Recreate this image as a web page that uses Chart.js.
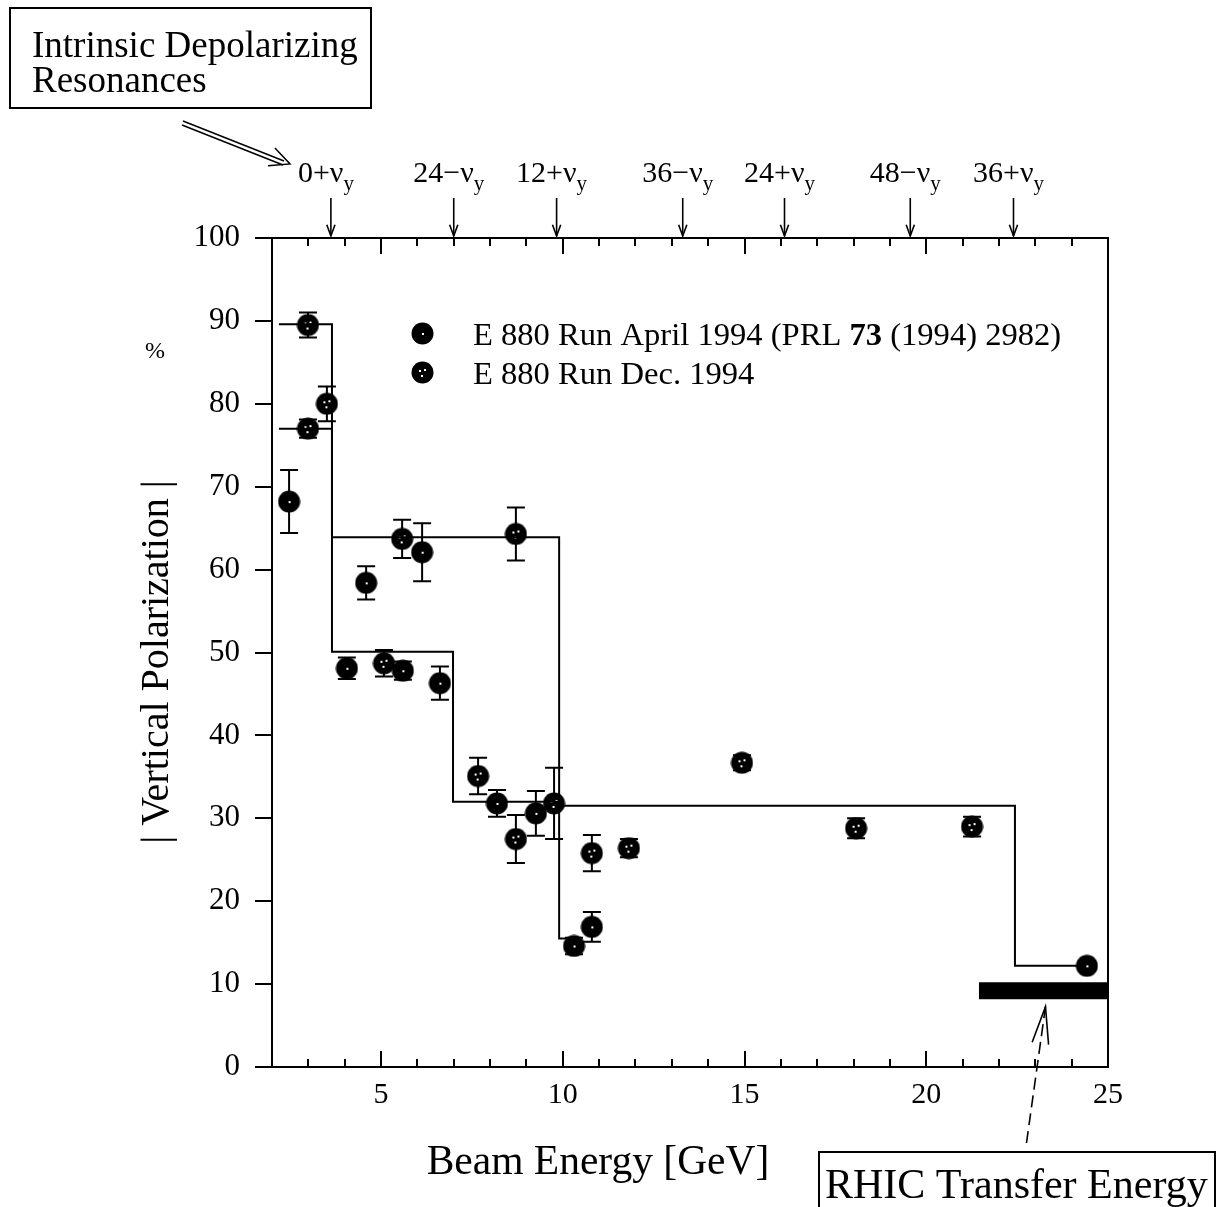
<!DOCTYPE html>
<html>
<head>
<meta charset="utf-8">
<script src="https://cdn.jsdelivr.net/npm/chart.js@4.4.1/dist/chart.umd.min.js"></script>
<style>
  html, body { margin: 0; padding: 0; background: #fff; }
  canvas { display: block; }
</style>
</head>
<body>
<canvas id="c" width="1226" height="1207"></canvas>
<script>
// E880 run, April 1994: beam energy [GeV], |vertical polarization| [%], error [%]
const aprilEnergy = [2.47, 4.06, 4.59, 5.60, 6.13, 6.62, 8.19, 9.26, 10.31, 10.80, 24.42];
const aprilPol    = [68.2, 48.1, 58.4, 47.8, 62.1, 46.3, 31.8, 30.6, 14.6, 16.9, 12.2];
const aprilErr    = [3.8, 1.3, 2.0, 1.1, 3.5, 2.0, 1.6, 2.7, 1.0, 1.8, 0.6];

// E880 run, December 1994
const decEnergy = [2.99, 2.99, 3.51, 5.08, 5.58, 7.67, 8.71, 8.71, 9.76, 10.80, 11.82, 14.93, 18.07, 21.26];
const decPol    = [89.5, 77.0, 80.0, 48.7, 63.7, 35.1, 64.3, 27.5, 31.8, 25.8, 26.4, 36.7, 28.8, 29.0];
const decErr    = [1.5, 1.1, 2.1, 1.6, 2.3, 2.2, 3.2, 2.9, 4.3, 2.2, 1.1, 0.9, 1.2, 1.2];

// Expected polarization steps after crossing each resonance
const upperStepEnergy = [2.19, 3.65, 3.65, 9.90, 9.90, 10.20];
const upperStepPol    = [89.6, 89.6, 63.9, 63.9, 15.5, 15.5];
const lowerStepEnergy = [2.19, 3.65, 3.65, 6.98, 6.98, 9.90, 9.90, 22.44, 22.44, 24.20];
const lowerStepPol    = [77.0, 77.0, 50.1, 50.1, 32.0, 32.0, 31.5, 31.5, 12.2, 12.2];

// Intrinsic depolarizing resonances (energy, label)
const resonanceEnergy = [3.62, 7.00, 9.83, 13.30, 16.10, 19.56, 22.40];
const resonanceLabel  = ['0+ν', '24\u2212ν', '12+ν', '36\u2212ν', '24+ν', '48\u2212ν', '36+ν'];

// RHIC transfer energy band
const rhicEnergy = [21.45, 25.0];
const rhicPol = 9.2;

// Axis ticks
const xTickValues = [5, 10, 15, 20, 25];
const yTickStep = 10;

const SERIF = '"Liberation Serif", "DejaVu Serif", serif';

function pts(xs, ys) { return xs.map((x, i) => ({ x: x, y: ys[i] })); }

// Filled markers: April = black disc with a single highlight, December = speckled disc
function makeMarker(speckles) {
  const c = document.createElement('canvas');
  c.width = 23; c.height = 23;
  const g = c.getContext('2d');
  g.fillStyle = '#000';
  g.beginPath(); g.arc(11.5, 11.5, 11, 0, Math.PI * 2); g.fill();
  g.fillStyle = '#fff';
  speckles.forEach(p => g.fillRect(p[0], p[1], 2, 2));
  return c;
}
const markerApril = makeMarker([[11, 11]]);
const markerDec = makeMarker([[8, 9], [13, 8], [10, 14]]);

const errorBars = {
  id: 'errorBars',
  beforeDatasetsDraw(chart) {
    const { ctx, scales: { x, y } } = chart;
    const sets = [[aprilEnergy, aprilPol, aprilErr], [decEnergy, decPol, decErr]];
    ctx.save();
    ctx.strokeStyle = '#000';
    ctx.lineWidth = 2;
    sets.forEach(([es, ps, errs]) => {
      es.forEach((e, i) => {
        const px = x.getPixelForValue(e);
        const yt = y.getPixelForValue(ps[i] + errs[i]);
        const yb = y.getPixelForValue(ps[i] - errs[i]);
        ctx.beginPath();
        ctx.moveTo(px, yt); ctx.lineTo(px, yb);
        ctx.moveTo(px - 9, yt); ctx.lineTo(px + 9, yt);
        ctx.moveTo(px - 9, yb); ctx.lineTo(px + 9, yb);
        ctx.stroke();
      });
    });
    ctx.restore();
  }
};

function arrowHead(ctx, x0, y0, x1, y1, len, spread) {
  const a = Math.atan2(y1 - y0, x1 - x0);
  ctx.beginPath();
  ctx.moveTo(x1 - len * Math.cos(a - spread), y1 - len * Math.sin(a - spread));
  ctx.lineTo(x1, y1);
  ctx.lineTo(x1 - len * Math.cos(a + spread), y1 - len * Math.sin(a + spread));
  ctx.stroke();
}

const frameAndNotes = {
  id: 'frameAndNotes',
  afterDraw(chart) {
    const { ctx, chartArea: a, scales: { x, y } } = chart;
    ctx.save();
    ctx.strokeStyle = '#000';
    ctx.fillStyle = '#000';
    ctx.lineWidth = 2;

    // plot frame
    ctx.strokeRect(a.left, a.top, a.right - a.left, a.bottom - a.top);

    // inward ticks on top and bottom edges, every 1 GeV
    ctx.beginPath();
    for (let v = 3; v <= 24; v++) {
      const px = Math.round(x.getPixelForValue(v));
      const len = v % 5 === 0 ? 16 : 8;
      ctx.moveTo(px, a.bottom); ctx.lineTo(px, a.bottom - len);
      ctx.moveTo(px, a.top); ctx.lineTo(px, a.top + len);
    }
    ctx.stroke();

    // resonance labels and arrows
    ctx.lineWidth = 1.6;
    resonanceEnergy.forEach((e, i) => {
      const px = x.getPixelForValue(e);
      ctx.font = '30px ' + SERIF;
      const w1 = ctx.measureText(resonanceLabel[i]).width;
      ctx.font = '21px ' + SERIF;
      const w2 = ctx.measureText('y').width;
      const left = px - 5 - (w1 + w2) / 2;
      ctx.textAlign = 'left';
      ctx.textBaseline = 'alphabetic';
      ctx.font = '30px ' + SERIF;
      ctx.fillText(resonanceLabel[i], left, 182);
      ctx.font = '21px ' + SERIF;
      ctx.fillText('y', left + w1, 190);
      ctx.beginPath();
      ctx.moveTo(px, 198); ctx.lineTo(px, a.top - 2);
      ctx.stroke();
      arrowHead(ctx, px, 198, px, a.top - 2, 12, 0.35);
    });

    // y-axis title and unit
    ctx.save();
    ctx.translate(157, 662);
    ctx.rotate(-Math.PI / 2);
    ctx.font = '40px ' + SERIF;
    ctx.textAlign = 'center';
    ctx.textBaseline = 'middle';
    ctx.fillText('| Vertical Polarization |', 0, 0);
    ctx.restore();
    ctx.font = '24px ' + SERIF;
    ctx.textAlign = 'center';
    ctx.textBaseline = 'middle';
    ctx.fillText('%', 155, 352);

    // x-axis title
    ctx.font = '41.5px ' + SERIF;
    ctx.fillText('Beam Energy [GeV]', 598, 1163);

    // legend
    ctx.drawImage(markerApril, 411, 322);
    ctx.drawImage(markerDec, 411, 361);
    ctx.textAlign = 'left';
    ctx.textBaseline = 'alphabetic';
    let tx = 473;
    const legendY1 = 345;
    ctx.font = '32.6px ' + SERIF;
    const partA = 'E 880 Run April 1994 (PRL ';
    ctx.fillText(partA, tx, legendY1);
    tx += ctx.measureText(partA).width;
    ctx.font = 'bold 32.6px ' + SERIF;
    ctx.fillText('73', tx, legendY1);
    tx += ctx.measureText('73').width;
    ctx.font = '32.6px ' + SERIF;
    ctx.fillText(' (1994) 2982)', tx, legendY1);
    ctx.fillText('E 880 Run Dec. 1994', 473, 384);

    // "Intrinsic Depolarizing Resonances" box and arrow
    ctx.lineWidth = 2;
    ctx.strokeRect(10, 8, 361, 100);
    ctx.font = '37px ' + SERIF;
    ctx.fillText('Intrinsic Depolarizing', 32, 57);
    ctx.fillText('Resonances', 32, 92);
    ctx.lineWidth = 1.5;
    ctx.beginPath();
    ctx.moveTo(183, 121); ctx.lineTo(284, 161);
    ctx.moveTo(182, 125); ctx.lineTo(283, 165);
    ctx.stroke();
    arrowHead(ctx, 183, 123, 290, 164, 22, 0.45);

    // RHIC transfer energy box and dashed pointer
    ctx.lineWidth = 2;
    ctx.strokeRect(819, 1152, 396, 60);
    ctx.font = '42px ' + SERIF;
    ctx.fillText('RHIC Transfer Energy', 825, 1198);
    const bandMidX = x.getPixelForValue((rhicEnergy[0] + rhicEnergy[1]) / 2) + 2;
    const bandBottom = y.getPixelForValue(rhicPol) + 10;
    ctx.lineWidth = 1.6;
    ctx.setLineDash([12, 6]);
    ctx.beginPath();
    ctx.moveTo(bandMidX - 19, 1143); ctx.lineTo(bandMidX, bandBottom + 6);
    ctx.stroke();
    ctx.setLineDash([]);
    arrowHead(ctx, bandMidX - 19, 1143, bandMidX, bandBottom + 6, 38, 0.22);

    ctx.restore();
  }
};

const lineStyle = { showLine: true, borderColor: '#000', borderWidth: 2, pointRadius: 0, fill: false, tension: 0 };

new Chart(document.getElementById('c'), {
  type: 'scatter',
  data: {
    datasets: [
      Object.assign({ label: 'upper steps', data: pts(upperStepEnergy, upperStepPol) }, lineStyle),
      Object.assign({ label: 'lower steps', data: pts(lowerStepEnergy, lowerStepPol) }, lineStyle),
      Object.assign({}, lineStyle, {
        label: 'RHIC transfer energy',
        data: pts(rhicEnergy, [rhicPol, rhicPol]),
        borderWidth: 17, borderCapStyle: 'butt', clip: false
      }),
      {
        label: 'E 880 Run April 1994',
        data: pts(aprilEnergy, aprilPol),
        pointStyle: markerApril, pointRadius: 11, showLine: false
      },
      {
        label: 'E 880 Run Dec. 1994',
        data: pts(decEnergy, decPol),
        pointStyle: markerDec, pointRadius: 11, showLine: false
      }
    ]
  },
  options: {
    responsive: false,
    animation: false,
    devicePixelRatio: 1,
    layout: { padding: { left: 0, top: 238, right: 118, bottom: 0 } },
    plugins: { legend: { display: false }, tooltip: { enabled: false } },
    scales: {
      x: {
        type: 'linear', min: 2, max: 25,
        afterBuildTicks: s => { s.ticks = xTickValues.map(v => ({ value: v })); },
        afterFit: s => { s.height = 140; },
        grid: { display: false, drawTicks: false },
        border: { display: false },
        ticks: { color: '#000', font: { family: SERIF, size: 30 }, padding: 10, maxRotation: 0, autoSkip: false }
      },
      y: {
        type: 'linear', min: 0, max: 100,
        afterFit: s => { s.width = 272; },
        grid: { drawOnChartArea: false, drawTicks: true, tickLength: 17, color: '#000', lineWidth: 2 },
        border: { display: false },
        ticks: { stepSize: yTickStep, color: '#000', font: { family: SERIF, size: 31 }, padding: 15 }
      }
    }
  },
  plugins: [errorBars, frameAndNotes]
});
</script>
</body>
</html>
